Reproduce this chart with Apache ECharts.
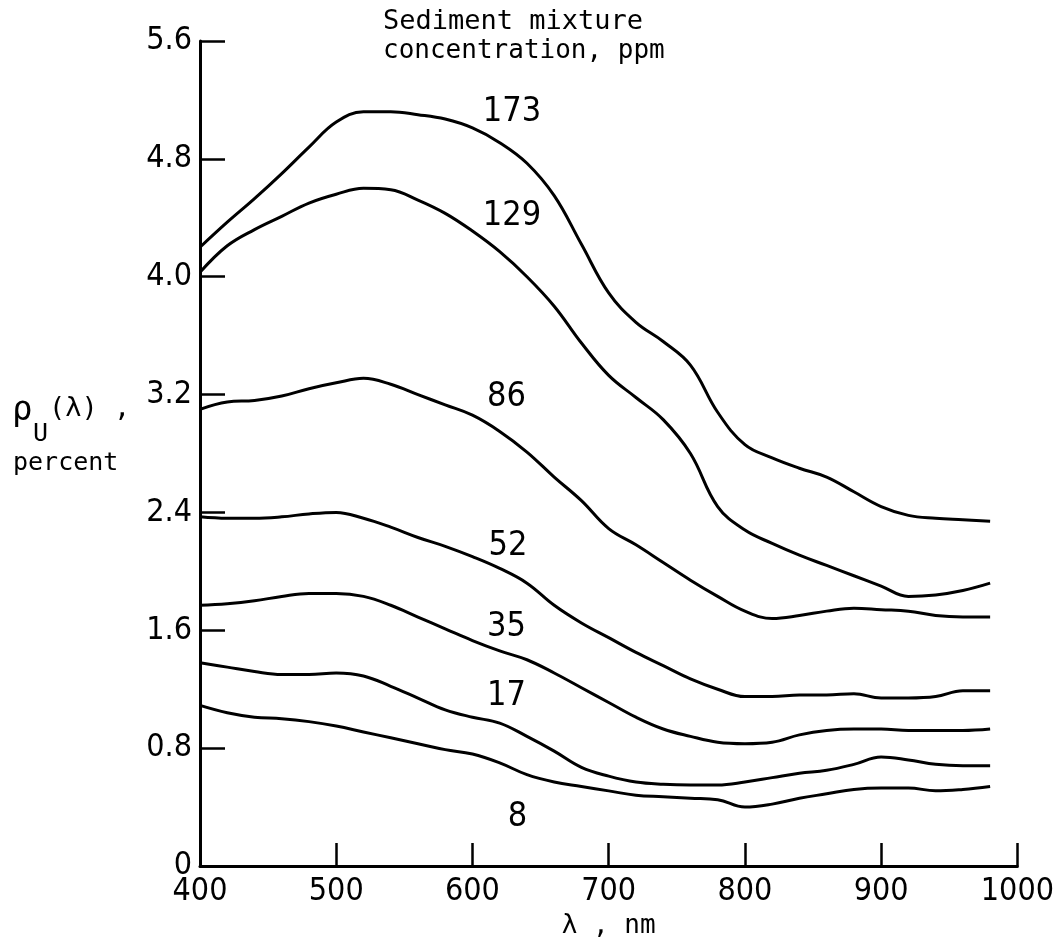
<!DOCTYPE html>
<html>
<head>
<meta charset="utf-8">
<script src="https://cdn.jsdelivr.net/npm/echarts@6/dist/echarts.min.js"></script>
<style>
  html, body { margin: 0; padding: 0; background: #fff; }
  #chart { width: 1057px; height: 946px; }
</style>
</head>
<body>
<div id="chart"></div>
<script>
// wavelength, nm (every 20 nm)
const wavelength = [400, 420, 440, 460, 480, 500, 520, 540, 560, 580, 600, 620, 640, 660, 680,
  700, 720, 740, 760, 780, 800, 820, 840, 860, 880, 900, 920, 940, 960, 980];

// upwelling reflectance, percent, per sediment concentration (ppm)
const c173 = [4.20, 4.37, 4.53, 4.70, 4.88, 5.05, 5.12, 5.12, 5.10, 5.07, 5.01, 4.91, 4.77, 4.55, 4.22,
  3.89, 3.69, 3.56, 3.40, 3.08, 2.86, 2.77, 2.70, 2.64, 2.54, 2.44, 2.38, 2.36, 2.35, 2.34];
const c129 = [4.03, 4.21, 4.32, 4.41, 4.50, 4.56, 4.60, 4.59, 4.52, 4.43, 4.31, 4.17, 4.00, 3.80, 3.55,
  3.33, 3.18, 3.03, 2.80, 2.44, 2.28, 2.19, 2.11, 2.04, 1.97, 1.90, 1.83, 1.84, 1.87, 1.92];
const c86 = [3.10, 3.15, 3.16, 3.19, 3.24, 3.28, 3.31, 3.27, 3.20, 3.13, 3.06, 2.95, 2.81, 2.64, 2.48,
  2.29, 2.18, 2.06, 1.94, 1.83, 1.73, 1.68, 1.70, 1.73, 1.75, 1.74, 1.73, 1.70, 1.69, 1.69];
const c52 = [2.37, 2.36, 2.36, 2.37, 2.39, 2.40, 2.36, 2.30, 2.23, 2.17, 2.10, 2.02, 1.92, 1.77, 1.65,
  1.55, 1.45, 1.36, 1.27, 1.20, 1.15, 1.15, 1.16, 1.16, 1.17, 1.14, 1.14, 1.15, 1.19, 1.19];
const c35 = [1.77, 1.78, 1.80, 1.83, 1.85, 1.85, 1.83, 1.77, 1.69, 1.61, 1.53, 1.46, 1.40, 1.31, 1.21,
  1.11, 1.01, 0.93, 0.88, 0.84, 0.83, 0.84, 0.89, 0.92, 0.93, 0.93, 0.92, 0.92, 0.92, 0.93];
const c17 = [1.38, 1.35, 1.32, 1.30, 1.30, 1.31, 1.29, 1.22, 1.14, 1.06, 1.01, 0.97, 0.88, 0.78, 0.67,
  0.61, 0.57, 0.555, 0.55, 0.55, 0.57, 0.60, 0.63, 0.65, 0.69, 0.74, 0.72, 0.69, 0.68, 0.68];
const c8 = [1.09, 1.04, 1.01, 1.00, 0.98, 0.95, 0.91, 0.87, 0.83, 0.79, 0.76, 0.70, 0.62, 0.57, 0.54,
  0.51, 0.48, 0.47, 0.46, 0.45, 0.40, 0.42, 0.46, 0.49, 0.52, 0.53, 0.53, 0.51, 0.52, 0.54];

const curveNames = ['173', '129', '86', '52', '35', '17', '8'];
const curves = [c173, c129, c86, c52, c35, c17, c8];

// where each concentration label sits (data coords)
const labelX = [629, 629, 625, 626, 625, 625, 633];
const labelY = [5.12, 4.41, 3.18, 2.17, 1.62, 1.15, 0.33];

const NUM_FONT = '"Liberation Sans Narrow", "DejaVu Sans Condensed", "Arial Narrow", sans-serif';
const TXT_FONT = '"DejaVu Sans Mono", "Liberation Mono", monospace';

let chart = echarts.init(document.getElementById('chart'), null, { renderer: 'canvas' });

let series = curves.map((vals, i) => ({
  name: curveNames[i],
  type: 'line',
  smooth: 0.4,
  showSymbol: false,
  silent: true,
  lineStyle: { color: '#000', width: 3 },
  data: wavelength.map((w, j) => [w, vals[j]])
}));

// concentration labels
series.push({
  type: 'scatter',
  symbolSize: 0,
  silent: true,
  itemStyle: { opacity: 1 },
  data: curveNames.map((n, i) => ({ value: [labelX[i], labelY[i]], name: n })),
  label: {
    show: true,
    position: 'inside',
    formatter: p => p.name,
    color: '#000',
    fontFamily: NUM_FONT,
    fontSize: 34
  }
});

chart.setOption({
  animation: false,
  backgroundColor: '#fff',
  grid: { left: 200, right: 36, top: 41, bottom: 80 },
  xAxis: {
    type: 'value',
    min: 400,
    max: 1000,
    interval: 100,
    name: 'λ , nm',
    nameLocation: 'middle',
    nameGap: 42,
    nameTextStyle: { color: '#000', fontFamily: TXT_FONT, fontSize: 26 },
    axisLine: { lineStyle: { color: '#000', width: 3 } },
    axisTick: { inside: true, length: 23, lineStyle: { color: '#000', width: 2.5 } },
    axisLabel: { color: '#000', fontFamily: NUM_FONT, fontSize: 32, margin: 10, formatter: v => String(v) },
    splitLine: { show: false }
  },
  yAxis: {
    type: 'value',
    min: 0,
    max: 5.6,
    interval: 0.8,
    axisLine: { show: true, lineStyle: { color: '#000', width: 3 } },
    axisTick: { show: true, inside: true, length: 25, lineStyle: { color: '#000', width: 2.5 } },
    axisLabel: {
      color: '#000', fontFamily: NUM_FONT, fontSize: 32, margin: 8,
      formatter: v => (v === 0 ? '0' : v.toFixed(1))
    },
    splitLine: { show: false }
  },
  graphic: [
    { type: 'text', left: 383, top: 8, style: { text: 'Sediment mixture', fill: '#000', font: '27px ' + TXT_FONT } },
    { type: 'text', left: 383, top: 38, style: { text: 'concentration, ppm', fill: '#000', font: '26px ' + TXT_FONT } },
    { type: 'text', left: 12, top: 394, style: { text: 'ρ', fill: '#000', font: '34px ' + TXT_FONT } },
    { type: 'text', left: 33, top: 422, style: { text: 'U', fill: '#000', font: '25px ' + TXT_FONT } },
    { type: 'text', left: 49, top: 395, style: { text: '(λ) ,', fill: '#000', font: '27px ' + TXT_FONT } },
    { type: 'text', left: 13, top: 451, style: { text: 'percent', fill: '#000', font: '25px ' + TXT_FONT } }
  ],
  series: series
});
</script>
</body>
</html>
